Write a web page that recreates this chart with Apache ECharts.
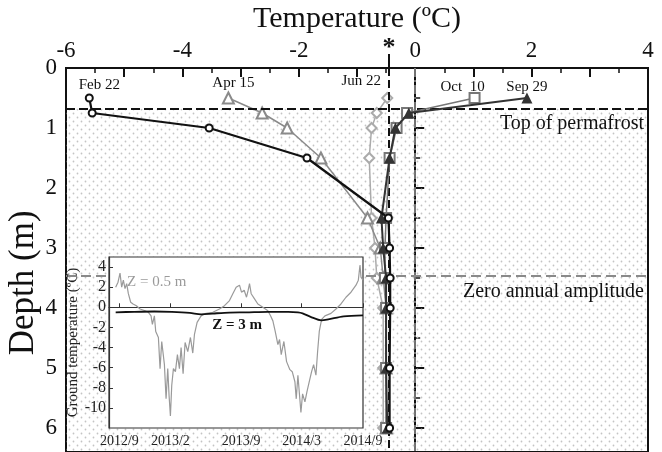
<!DOCTYPE html>
<html><head><meta charset="utf-8">
<script src="https://cdn.jsdelivr.net/npm/echarts@6/dist/echarts.min.js"></script>
<style>html,body{margin:0;padding:0;background:#fff}#c{width:662px;height:452px}</style>
</head><body><div id="c"></div>
<script>
// ---------- main profile data ----------
const depths = [0.5, 0.75, 1.0, 1.5, 2.5, 3.0, 3.5, 4.0, 5.0, 6.0];
const feb22 = [-5.6, -5.55, -3.54, -1.86, -0.46, -0.44, -0.43, -0.43, -0.44, -0.44];
const apr15 = [-3.21, -2.63, -2.2, -1.62, -0.82, -0.6, -0.55, -0.5, -0.5, -0.5];
const jun22 = [-0.48, -0.66, -0.75, -0.79, -0.75, -0.69, -0.66, -0.55, -0.55, -0.55];
const oct10 = [1.02, -0.14, -0.32, -0.44, -0.5, -0.52, -0.52, -0.5, -0.5, -0.5];
const sep29 = [1.92, -0.11, -0.34, -0.44, -0.58, -0.55, -0.5, -0.5, -0.5, -0.48];
const profileLabels = ['Feb 22', 'Apr 15', 'Jun 22', 'Oct  10', 'Sep 29'];
const xTickLabels = [-6, -4, -2, 0, 2, 4];
const depthTickLabels = [0, 1, 2, 3, 4, 5, 6];
const permafrostTop = 0.68;
const zeroAmplitude = 3.47;
const starTemp = -0.45;
const zeroTemp = 0;

// ---------- inset data ----------
const z05Dates = ['2012-08-21','2012-08-28','2012-09-03','2012-09-08','2012-09-13','2012-09-18','2012-09-23','2012-09-28','2012-10-05','2012-10-12','2012-10-22','2012-11-02','2012-11-17','2012-11-27','2012-12-05','2012-12-09','2012-12-15','2012-12-19','2012-12-27','2013-01-01','2013-01-06','2013-01-14','2013-01-19','2013-01-24','2013-01-28','2013-02-01','2013-02-05','2013-02-10','2013-02-16','2013-02-22','2013-02-28','2013-03-05','2013-03-11','2013-03-17','2013-03-25','2013-04-02','2013-04-09','2013-04-14','2013-04-22','2013-05-04','2013-05-19','2013-06-08','2013-06-28','2013-07-13','2013-07-28','2013-08-07','2013-08-17','2013-08-27','2013-09-02','2013-09-10','2013-09-17','2013-09-22','2013-09-26','2013-10-01','2013-10-11','2013-10-21','2013-11-05','2013-11-20','2013-11-28','2013-12-05','2013-12-12','2013-12-20','2013-12-25','2013-12-30','2014-01-07','2014-01-15','2014-01-25','2014-02-01','2014-02-09','2014-02-13','2014-02-18','2014-02-23','2014-02-27','2014-03-04','2014-03-11','2014-03-17','2014-03-24','2014-03-31','2014-04-06','2014-04-13','2014-04-18','2014-04-23','2014-04-30','2014-05-10','2014-05-28','2014-06-12','2014-06-27','2014-07-12','2014-07-27','2014-08-11','2014-08-18','2014-08-23','2014-08-26','2014-09-01'];
const z05Temps = [2.0,2.5,3.4,2.0,2.7,1.85,2.35,1.35,0.5,0.33,0.16,-0.17,-0.34,-0.5,-0.85,-1.7,-0.85,-2.4,-3.0,-6.1,-3.4,-5.7,-9.1,-6.1,-8.8,-10.8,-7.75,-6.1,-6.4,-4.7,-6.1,-4.0,-6.6,-3.5,-4.4,-3.0,-4.55,-2.7,-1.5,-0.85,-0.6,-0.5,-0.17,0.16,0.67,1.35,2.0,2.2,1.5,1.7,1.0,1.7,2.35,1.35,0.84,0.33,0.0,-0.34,-0.85,-1.35,-2.4,-3.7,-3.2,-4.7,-3.4,-5.4,-6.2,-6.4,-7.4,-9.1,-6.75,-8.8,-10.45,-8.6,-9.4,-8.4,-7.4,-6.4,-5.7,-6.75,-4.4,-2.4,-1.2,-0.85,-0.6,-0.17,0.33,1.0,1.5,2.2,2.7,4.2,3.0,2.7];
const z3Dates = ['2012-08-21','2012-10-15','2012-12-15','2013-02-05','2013-03-31','2013-05-04','2013-06-08','2013-07-28','2013-09-15','2013-11-20','2014-01-20','2014-02-18','2014-03-04','2014-03-28','2014-04-30','2014-05-20','2014-07-05','2014-09-01'];
const z3Temps = [-0.5,-0.45,-0.42,-0.45,-0.55,-0.7,-0.62,-0.52,-0.5,-0.45,-0.45,-0.5,-0.6,-0.95,-1.3,-1.2,-0.9,-0.8];
const insetTickDates = ['2012-09-01','2013-02-01','2013-09-01','2014-03-01','2014-09-01'];
const insetTickLabels = ['2012/9','2013/2','2013/9','2014/3','2014/9'];
const insetYTicks = [-10, -8, -6, -4, -2, 0, 2, 4];
const insetStart = '2012-08-01', insetEnd = '2014-09-01';

// ---------- rendering ----------
const F = "'Liberation Serif', 'Times New Roman', serif";
const chart = echarts.init(document.getElementById('c'), null, {renderer: 'canvas'});

// stipple pattern
const pat = document.createElement('canvas');
pat.width = 8; pat.height = 8;
const g = pat.getContext('2d');
g.fillStyle = '#c4c4c4';
[[1.5, 1.5], [5.5, 5.5]].forEach(([x, y]) => { g.beginPath(); g.arc(x, y, 0.9, 0, Math.PI * 2); g.fill(); });

const tp = d => { const [y, m, dd] = d.split('-').map(Number); return Date.UTC(y, m - 1, dd); };
const insetTickTimes = insetTickDates.map(tp);

const styles = [
  {temps: feb22, label: profileLabels[0], color: '#111', symbol: 'emptyCircle', size: 7, width: 2.2, offset: [10, 2], z: 8},
  {temps: apr15, label: profileLabels[1], color: '#8a8a8a', symbol: 'emptyTriangle', size: 11, width: 1.5, offset: [5, 2], z: 4},
  {temps: jun22, label: profileLabels[2], color: '#ababab', symbol: 'emptyDiamond', size: 10, width: 1.5, offset: [-26, 0], z: 3},
  {temps: oct10, label: profileLabels[3], color: '#777', symbol: 'emptyRect', size: 10, width: 1.5, offset: [-12, 6], z: 5},
  {temps: sep29, label: profileLabels[4], color: '#333', symbol: 'triangle', size: 11, width: 2, offset: [0, 5], z: 6}
];

const profileSeries = styles.map(s => ({
  type: 'line', xAxisIndex: 0, yAxisIndex: 0, z: s.z,
  symbol: s.symbol, symbolSize: s.size,
  itemStyle: {color: s.color, borderWidth: 1.2},
  lineStyle: {color: s.color, width: s.width},
  data: depths.map((d, i) => i === 0 ? {
    value: [s.temps[i], d],
    label: {show: true, position: 'top', distance: 3, offset: s.offset, formatter: s.label,
      fontSize: 15, fontFamily: F, color: '#111'}
  } : [s.temps[i], d])
}));

const helperSeries = {
  type: 'line', xAxisIndex: 0, yAxisIndex: 0, data: [], z: 1,
  markArea: {
    silent: true, z: 1,
    itemStyle: {color: {image: pat, repeat: 'repeat'}},
    data: [[{xAxis: -6, yAxis: permafrostTop}, {xAxis: 4, yAxis: 6.4}]]
  },
  markLine: {
    silent: true, symbol: 'none', z: 5,
    data: [
      {xAxis: starTemp, lineStyle: {color: '#111', width: 2, type: [8, 4]}, label: {show: false}},
      {xAxis: zeroTemp, lineStyle: {color: '#8a8a8a', width: 1.6, type: [9, 3, 2, 3]}, label: {show: false}},
      {yAxis: permafrostTop, lineStyle: {color: '#111', width: 2, type: [9, 4]},
        label: {show: true, position: 'insideEndBottom', distance: [4, 5], formatter: 'Top of permafrost', fontSize: 20, fontFamily: F, color: '#111'}},
      {yAxis: zeroAmplitude, lineStyle: {color: '#8a8a8a', width: 2, type: [10, 5]},
        label: {show: true, position: 'insideEndBottom', distance: [4, 6], formatter: 'Zero annual amplitude', fontSize: 20, fontFamily: F, color: '#111'}}
    ]
  }
};

const insetSeries = [
  {type: 'line', xAxisIndex: 1, yAxisIndex: 1, z: 12, showSymbol: false, symbol: 'none',
    lineStyle: {color: '#9a9a9a', width: 1.2},
    data: z05Dates.map((d, i) => [tp(d), z05Temps[i]]),
    markLine: {silent: true, symbol: 'none', z: 11, label: {show: false},
      lineStyle: {color: '#cfcfcf', width: 1, type: 'solid'}, data: [{yAxis: 0}]}
  },
  {type: 'line', xAxisIndex: 1, yAxisIndex: 1, z: 13, showSymbol: false, symbol: 'none', smooth: 0.3,
    lineStyle: {color: '#111', width: 1.8},
    data: z3Dates.map((d, i) => [tp(d), z3Temps[i]])
  }
];

const option = {
  animation: false,
  backgroundColor: '#fff',
  grid: [
    {left: 66, top: 68, width: 582, height: 384, outerBoundsMode: 'none', containLabel: false,
      show: true, borderColor: '#111', borderWidth: 2, backgroundColor: 'transparent'},
    {left: 109, top: 257, width: 254, height: 171, outerBoundsMode: 'none', containLabel: false,
      show: true, z: 10, borderColor: '#333', borderWidth: 1.2, backgroundColor: '#fff'}
  ],
  xAxis: [
    {gridIndex: 0, type: 'value', position: 'top', min: -6, max: 4, interval: 1,
      axisLine: {show: true, lineStyle: {color: '#111', width: 2}},
      axisTick: {show: true, inside: true, length: 9, lineStyle: {color: '#111', width: 2}},
      minorTick: {show: true, splitNumber: 2, length: 5, lineStyle: {color: '#111', width: 1.5}},
      splitLine: {show: false},
      axisLabel: {fontSize: 23, fontFamily: F, color: '#111', margin: 6,
        formatter: v => xTickLabels.includes(v) ? String(v) : ''},
      name: 'Temperature (ºC)', nameLocation: 'middle', nameGap: 34,
      nameTextStyle: {fontSize: 30, fontFamily: F, color: '#111'}
    },
    {gridIndex: 1, type: 'value', min: tp(insetStart), max: tp(insetEnd), z: 11,
      axisLine: {show: true, lineStyle: {color: '#333', width: 1.2}},
      axisTick: {show: true, inside: true, length: 4, customValues: insetTickTimes, lineStyle: {color: '#333'}},
      splitLine: {show: false},
      axisLabel: {fontSize: 14, fontFamily: F, color: '#222', margin: 6, hideOverlap: false,
        customValues: insetTickTimes,
        formatter: v => { const i = insetTickTimes.indexOf(v); return i >= 0 ? insetTickLabels[i] : ''; }}
    }
  ],
  yAxis: [
    {gridIndex: 0, type: 'value', inverse: true, min: 0, max: 6.4, interval: 1,
      axisLine: {show: true, lineStyle: {color: '#111', width: 2}},
      axisTick: {show: true, inside: true, length: 9, lineStyle: {color: '#111', width: 2}},
      minorTick: {show: true, splitNumber: 2, length: 5, lineStyle: {color: '#111', width: 1.5}},
      splitLine: {show: false},
      axisLabel: {fontSize: 23, fontFamily: F, color: '#111', margin: 9, showMaxLabel: false,
        formatter: v => depthTickLabels.includes(v) ? String(v) : ''}
    },
    {gridIndex: 1, type: 'value', min: -12, max: 5, z: 11,
      axisLine: {show: true, lineStyle: {color: '#333', width: 1.2}},
      axisTick: {show: true, inside: true, length: 4, customValues: insetYTicks, lineStyle: {color: '#333'}},
      splitLine: {show: false},
      axisLabel: {fontSize: 16, fontFamily: F, color: '#222', margin: 3, customValues: insetYTicks},
      name: 'Ground temperature (ºC)', nameLocation: 'middle', nameGap: 22, nameRotate: 90,
      nameTextStyle: {fontSize: 15, fontFamily: F, color: '#222'}
    }
  ],
  series: [helperSeries].concat(profileSeries).concat(insetSeries)
};
chart.setOption(option);

// annotations positioned through the chart's own scales
const starTop = chart.convertToPixel({gridIndex: 0}, [starTemp, 0]);
const depthMid = chart.convertToPixel({gridIndex: 0}, [-6, 3.58]);
const zLbl05 = chart.convertToPixel({gridIndex: 1}, [tp('2012-12-22'), 2.5]);
const zLbl3 = chart.convertToPixel({gridIndex: 1}, [tp('2013-08-20'), -1.8]);
chart.setOption({
  graphic: [
    {type: 'line', z: 20, shape: {x1: starTop[0], y1: starTop[1], x2: starTop[0], y2: starTop[1] - 14},
      style: {stroke: '#111', lineWidth: 2}},
    {type: 'text', z: 20, x: starTop[0], y: starTop[1] - 20,
      style: {text: '*', font: 'bold 26px ' + F, fill: '#111', align: 'center', verticalAlign: 'middle'}},
    {type: 'text', z: 20, x: depthMid[0] - 42, y: depthMid[1], rotation: Math.PI / 2,
      style: {text: 'Depth (m)', font: '35px ' + F, fill: '#111', align: 'center', verticalAlign: 'middle'}},
    {type: 'text', z: 30, x: zLbl05[0], y: zLbl05[1],
      style: {text: 'Z = 0.5 m', font: '15px ' + F, fill: '#9a9a9a', align: 'center', verticalAlign: 'middle'}},
    {type: 'text', z: 30, x: zLbl3[0], y: zLbl3[1],
      style: {text: 'Z = 3 m', font: 'bold 15px ' + F, fill: '#111', align: 'center', verticalAlign: 'middle'}}
  ]
});
</script>
</body></html>
